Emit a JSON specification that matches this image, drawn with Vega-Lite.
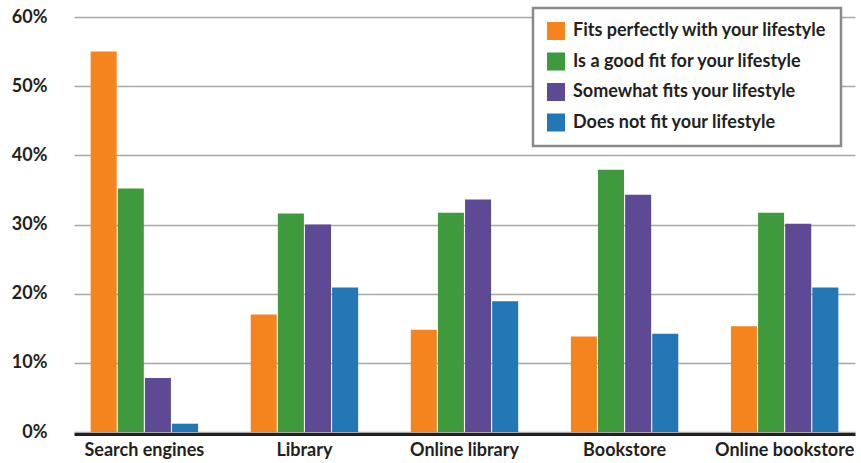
{
  "$schema": "https://vega.github.io/schema/vega-lite/v6.json",
  "width": 781,
  "height": 415,
  "autosize": {"type": "none"},
  "padding": {"left": 74, "top": 17, "right": 6, "bottom": 31},
  "background": "white",
  "config": {
    "view": {"stroke": null},
    "font": "Lato",
    "legend": {"strokeWidth": 2.5}
  },
  "data": {
    "values": [
      {"source": "Search engines", "fit": "Fits perfectly with your lifestyle", "value": 55.0},
      {"source": "Search engines", "fit": "Is a good fit for your lifestyle", "value": 35.2},
      {"source": "Search engines", "fit": "Somewhat fits your lifestyle", "value": 7.8},
      {"source": "Search engines", "fit": "Does not fit your lifestyle", "value": 1.2},
      {"source": "Library", "fit": "Fits perfectly with your lifestyle", "value": 17.0},
      {"source": "Library", "fit": "Is a good fit for your lifestyle", "value": 31.6},
      {"source": "Library", "fit": "Somewhat fits your lifestyle", "value": 30.0},
      {"source": "Library", "fit": "Does not fit your lifestyle", "value": 20.9},
      {"source": "Online library", "fit": "Fits perfectly with your lifestyle", "value": 14.8},
      {"source": "Online library", "fit": "Is a good fit for your lifestyle", "value": 31.7},
      {"source": "Online library", "fit": "Somewhat fits your lifestyle", "value": 33.6},
      {"source": "Online library", "fit": "Does not fit your lifestyle", "value": 18.9},
      {"source": "Bookstore", "fit": "Fits perfectly with your lifestyle", "value": 13.8},
      {"source": "Bookstore", "fit": "Is a good fit for your lifestyle", "value": 37.9},
      {"source": "Bookstore", "fit": "Somewhat fits your lifestyle", "value": 34.3},
      {"source": "Bookstore", "fit": "Does not fit your lifestyle", "value": 14.2},
      {"source": "Online bookstore", "fit": "Fits perfectly with your lifestyle", "value": 15.3},
      {"source": "Online bookstore", "fit": "Is a good fit for your lifestyle", "value": 31.7},
      {"source": "Online bookstore", "fit": "Somewhat fits your lifestyle", "value": 30.1},
      {"source": "Online bookstore", "fit": "Does not fit your lifestyle", "value": 20.9}
    ]
  },
  "mark": {"type": "bar"},
  "encoding": {
    "x": {
      "field": "source",
      "type": "nominal",
      "sort": ["Search engines", "Library", "Online library", "Bookstore", "Online bookstore"],
      "scale": {"paddingInner": 0.329, "paddingOuter": 0.104},
      "axis": {
        "title": null,
        "labelAngle": 0,
        "labelFont": "Lato",
        "labelFontWeight": "bold",
        "labelFontSize": 18,
        "labelColor": "#231f20",
        "labelPadding": 7,
        "labelOverlap": false,
        "ticks": false,
        "domainColor": "#231f20",
        "domainWidth": 3,
        "offset": 2,
        "grid": false
      }
    },
    "xOffset": {
      "field": "fit",
      "type": "nominal",
      "sort": ["Fits perfectly with your lifestyle", "Is a good fit for your lifestyle", "Somewhat fits your lifestyle", "Does not fit your lifestyle"],
      "scale": {"paddingInner": 0.04}
    },
    "y": {
      "field": "value",
      "type": "quantitative",
      "scale": {"domain": [0, 60], "nice": false},
      "axis": {
        "title": null,
        "values": [0, 10, 20, 30, 40, 50, 60],
        "labelExpr": "datum.value + '%'",
        "labelFont": "Lato",
        "labelFontWeight": "bold",
        "labelFontSize": 18,
        "labelColor": "#231f20",
        "labelPadding": 27,
        "ticks": false,
        "domain": false,
        "gridColor": "#a8a8a8",
        "gridWidth": 1.5
      }
    },
    "color": {
      "field": "fit",
      "type": "nominal",
      "sort": ["Fits perfectly with your lifestyle", "Is a good fit for your lifestyle", "Somewhat fits your lifestyle", "Does not fit your lifestyle"],
      "scale": {
        "domain": ["Fits perfectly with your lifestyle", "Is a good fit for your lifestyle", "Somewhat fits your lifestyle", "Does not fit your lifestyle"],
        "range": ["#f5841f", "#3f9a3d", "#5e4a94", "#2277b4"]
      },
      "legend": {
        "title": null,
        "orient": "none",
        "legendX": 459,
        "legendY": -9,
        "direction": "vertical",
        "symbolType": "square",
        "symbolSize": 324,
        "symbolStrokeWidth": 0,
        "symbolOpacity": 1,
        "labelFont": "Lato",
        "labelFontWeight": "bold",
        "labelFontSize": 18,
        "labelExpr": "datum.label + '\u00a0\u00a0\u00a0\u00a0'",
        "labelColor": "#231f20",
        "labelOffset": 8,
        "labelLimit": 400,
        "rowPadding": 12.5,
        "padding": 14,
        "strokeColor": "#8a8a8a",
        "fillColor": "white"
      }
    }
  }
}
